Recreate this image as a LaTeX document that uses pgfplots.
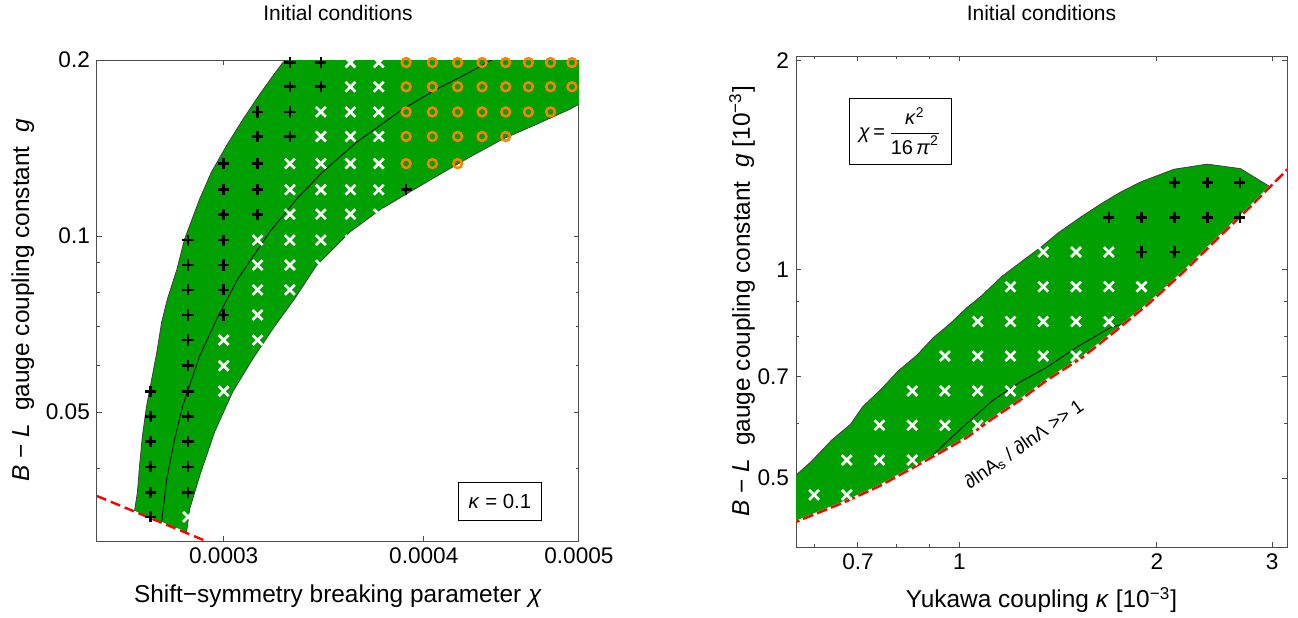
\documentclass[border=0pt]{standalone}
\usepackage{fontspec}
\setmainfont{Liberation Sans}
\usepackage{amsmath}
\usepackage{pgfplots}
\pgfplotsset{compat=1.18}
\definecolor{bandgreen}{RGB}{0,160,0}
\definecolor{morange}{RGB}{255,128,0}
\begin{document}
\begin{tikzpicture}
\path[use as bounding box] (0,0) rectangle (649pt,308.5pt);
% ---------------- left panel ----------------
\begin{axis}[
  name=leftax,
  scale only axis, anchor=south west,
  xmode=log, ymode=log,
  /pgf/number format/assume math mode=true,
  tick align=inside,
  major tick length=2.6pt, minor tick length=1.5pt,
  axis line style={black!70, line width=0.5pt},
  tick style={black!70, line width=0.5pt},
  tick label style={font=\fontsize{11.3}{13}\selectfont, black},
  label style={font=\fontsize{12.2}{14}\selectfont},
  at={(48.5pt,38pt)}, width=241pt, height=240.5pt,
  xmin=0.00025, xmax=0.0005, ymin=0.0301, ymax=0.2,
  xtick={0.0003,0.0004,0.0005}, xticklabels={0.0003,0.0004,0.0005},
  ytick={0.05,0.1,0.2}, yticklabels={0.05,0.1,0.2},
  minor ytick={0.04,0.06,0.07,0.08,0.09},
  xlabel={Shift\textminus symmetry breaking parameter \textit{χ}},
  xlabel style={at={(axis description cs:0.5,-0.114)}, anchor=center},
  ylabel={\textit{B} \textminus\ \textit{L}\ \ gauge coupling constant\ \ \textit{g}},
  ylabel style={at={(axis description cs:-0.154,0.5)}, anchor=center},
]
\addplot[fill=bandgreen, draw=none] coordinates {
(0.0002639,0.0339) (0.0002650,0.0365) (0.0002658,0.04045) (0.0002669,0.0455)
(0.0002685,0.0512) (0.0002705,0.05693) (0.0002725,0.06334) (0.0002744,0.0713)
(0.0002767,0.0781) (0.0002805,0.0878) (0.0002836,0.0988) (0.0002898,0.1157)
(0.0002947,0.1285) (0.0003012,0.1427) (0.0003085,0.1585) (0.0003160,0.1749)
(0.0003220,0.1879) (0.0003267,0.1982) (0.000333,0.205) (0.00034,0.21)
(0.00052,0.21) (0.00052,0.176) (0.0005001,0.1681) (0.0004936,0.1648)
(0.0004708,0.1554) (0.0004482,0.1465) (0.0004275,0.1365) (0.0004076,0.1266)
(0.000392,0.1189) (0.0003755,0.1108) (0.0003596,0.1015) (0.0003428,0.0890)
(0.0003322,0.0781) (0.0003219,0.06934) (0.0003128,0.06163) (0.0003039,0.05412)
(0.0002961,0.04624) (0.0002898,0.03889) (0.0002857,0.03415) (0.0002844,0.0312)
} --cycle;
\addplot[black!75, line width=0.4pt] coordinates {
(0.0002639,0.0339) (0.0002650,0.0365) (0.0002658,0.04045) (0.0002669,0.0455)
(0.0002685,0.0512) (0.0002705,0.05693) (0.0002725,0.06334) (0.0002744,0.0713)
(0.0002767,0.0781) (0.0002805,0.0878) (0.0002836,0.0988) (0.0002898,0.1157)
(0.0002947,0.1285) (0.0003012,0.1427) (0.0003085,0.1585) (0.0003160,0.1749)
(0.0003220,0.1879) (0.0003267,0.1982) (0.000333,0.205) (0.00034,0.21)
};
\addplot[black!75, line width=0.4pt] coordinates {
(0.0002844,0.0312) (0.0002857,0.03415) (0.0002898,0.03889) (0.0002961,0.04624)
(0.0003039,0.05412) (0.0003128,0.06163) (0.0003219,0.06934) (0.0003322,0.0781)
(0.0003428,0.0890) (0.0003596,0.1015) (0.0003755,0.1108) (0.000392,0.1189)
(0.0004076,0.1266) (0.0004275,0.1365) (0.0004482,0.1465) (0.0004708,0.1554)
(0.0004936,0.1648) (0.0005001,0.1681) (0.00052,0.176)
};
\addplot[black, line width=0.4pt] coordinates {
(0.0002744,0.0325) (0.0002764,0.03843) (0.0002796,0.04498) (0.0002828,0.0512)
(0.0002898,0.06235) (0.0002970,0.07211) (0.0003061,0.0844) (0.0003101,0.0889)
(0.0003205,0.1016) (0.0003332,0.1157) (0.0003459,0.1287) (0.0003632,0.1447)
(0.0003881,0.1648) (0.0004076,0.1784) (0.0004275,0.1907) (0.0004419,0.2007)
(0.00046,0.212)
};
\addplot[only marks, mark=+, mark size=2.8pt, mark options={line width=1.35pt}, color=black] coordinates {
(0.00033,0.198)(0.000345,0.198)
(0.00033,0.180)(0.000345,0.180)
(0.000315,0.163)(0.00033,0.163)
(0.000315,0.148)(0.00033,0.148)
(0.0003,0.133)(0.000315,0.133)
(0.0003,0.120)(0.000315,0.120)(0.00039,0.120)
(0.0003,0.109)(0.000315,0.109)
(0.000285,0.0984)(0.0003,0.0984)
(0.000285,0.0892)(0.0003,0.0892)
(0.000285,0.0809)(0.0003,0.0809)
(0.000285,0.0733)(0.0003,0.0733)
(0.000285,0.0664)
(0.000285,0.0600)
(0.00027,0.0543)(0.000285,0.0543)
(0.00027,0.0492)(0.000285,0.0492)
(0.00027,0.0445)(0.000285,0.0445)
(0.00027,0.0403)(0.000285,0.0403)
(0.00027,0.0364)(0.000285,0.0364)
(0.00027,0.0331)
};
\addplot[only marks, mark=x, mark size=3.5pt, mark options={line width=1.35pt}, color=white] coordinates {
(0.00036,0.198)(0.000375,0.198)
(0.00036,0.180)(0.000375,0.180)
(0.000345,0.163)(0.00036,0.163)(0.000375,0.163)
(0.000345,0.148)(0.00036,0.148)(0.000375,0.148)
(0.00033,0.133)(0.000345,0.133)(0.00036,0.133)(0.000375,0.133)
(0.00033,0.120)(0.000345,0.120)(0.00036,0.120)(0.000375,0.120)
(0.00033,0.109)(0.000345,0.109)(0.00036,0.109)(0.000375,0.109)
(0.000315,0.0984)(0.00033,0.0984)(0.000345,0.0984)(0.00036,0.0984)
(0.000315,0.0892)(0.00033,0.0892)(0.000345,0.0892)
(0.000315,0.0809)(0.00033,0.0809)
(0.000315,0.0733)
(0.0003,0.0664)(0.000315,0.0664)
(0.0003,0.0600)
(0.0003,0.0543)
(0.000285,0.0331)
};
\addplot[only marks, mark=o, mark size=2.2pt, mark options={line width=1.25pt}, color=morange] coordinates {
(0.00039,0.198)(0.000405,0.198)(0.00042,0.198)(0.000435,0.198)(0.00045,0.198)(0.000465,0.198)(0.00048,0.198)(0.000495,0.198)
(0.00039,0.180)(0.000405,0.180)(0.00042,0.180)(0.000435,0.180)(0.00045,0.180)(0.000465,0.180)(0.00048,0.180)(0.000495,0.180)
(0.00039,0.163)(0.000405,0.163)(0.00042,0.163)(0.000435,0.163)(0.00045,0.163)(0.000465,0.163)(0.00048,0.163)
(0.00039,0.148)(0.000405,0.148)(0.00042,0.148)(0.000435,0.148)(0.00045,0.148)
(0.00039,0.133)(0.000405,0.133)(0.00042,0.133)
};
\addplot[red, line width=1.2pt, dash pattern=on 5pt off 2.5pt] coordinates {
(0.00025,0.03594) (0.000295,0.0298)
};
\node[draw=black, fill=white, line width=0.5pt, minimum width=41.5pt, minimum height=19pt, inner sep=0pt, font=\fontsize{10.2}{12}\selectfont] at (axis description cs:0.836,0.083) {\textit{κ} = 0.1};
\end{axis}
\node[anchor=center, font=\fontsize{10.5}{12}\selectfont] at ([yshift=23.3pt]leftax.north) {Initial conditions};
% ---------------- right panel ----------------
\begin{axis}[
  name=rightax,
  scale only axis, anchor=south west,
  xmode=log, ymode=log,
  /pgf/number format/assume math mode=true,
  tick align=inside,
  major tick length=2.6pt, minor tick length=1.5pt,
  axis line style={black!70, line width=0.5pt},
  tick style={black!70, line width=0.5pt},
  tick label style={font=\fontsize{11.3}{13}\selectfont, black},
  label style={font=\fontsize{12.2}{14}\selectfont},
  at={(398pt,35pt)}, width=245.5pt, height=245.5pt,
  xmin=0.563, xmax=3.16, ymin=0.398, ymax=2.03,
  xtick={0.7,1,2,3}, xticklabels={0.7,1,2,3},
  minor xtick={0.6,0.8,0.9},
  ytick={0.5,0.7,1,2}, yticklabels={0.5,0.7,1,2},
  minor ytick={0.6,0.8,0.9},
  xlabel={Yukawa coupling \textit{κ} [10\textsuperscript{\textminus 3}]},
  xlabel style={at={(axis description cs:0.5,-0.108)}, anchor=center},
  ylabel={\textit{B} \textminus\ \textit{L}\ \ gauge coupling constant\ \ \textit{g} [10\textsuperscript{\textminus 3}]},
  ylabel style={at={(axis description cs:-0.110,0.5)}, anchor=center},
]
\addplot[fill=bandgreen, draw=none] coordinates {
(0.55,0.495) (0.5623,0.5045) (0.5934,0.528) (0.6383,0.5675) (0.6817,0.5979)
(0.7121,0.6343) (0.7603,0.6727) (0.8058,0.7137) (0.8606,0.7519) (0.9124,0.7976)
(0.9670,0.8349) (1.025,0.8798) (1.079,0.9149) (1.160,0.9767) (1.248,1.029)
(1.332,1.077) (1.413,1.128) (1.530,1.189) (1.646,1.244) (1.758,1.291)
(1.891,1.337) (2.124,1.394) (2.387,1.418) (2.683,1.397) (2.979,1.315)
(2.776,1.230) (2.472,1.106) (2.193,0.990) (1.952,0.8953) (1.739,0.8181)
(1.542,0.7473) (1.359,0.692) (1.235,0.6471) (1.123,0.6093) (1.025,0.5720)
(0.9320,0.5436) (0.8475,0.5171) (0.7544,0.4869) (0.6719,0.4630) (0.5614,0.432)
(0.55,0.428)
} --cycle;
\addplot[black!75, line width=0.4pt] coordinates {
(0.55,0.495) (0.5623,0.5045) (0.5934,0.528) (0.6383,0.5675) (0.6817,0.5979)
(0.7121,0.6343) (0.7603,0.6727) (0.8058,0.7137) (0.8606,0.7519) (0.9124,0.7976)
(0.9670,0.8349) (1.025,0.8798) (1.079,0.9149) (1.160,0.9767) (1.248,1.029)
(1.332,1.077) (1.413,1.128) (1.530,1.189) (1.646,1.244) (1.758,1.291)
(1.891,1.337) (2.124,1.394) (2.387,1.418) (2.683,1.397) (2.979,1.315)
};
\addplot[black, line width=0.4pt] coordinates {
(0.90,0.534) (0.96,0.566) (1.025,0.5992) (1.123,0.6471) (1.235,0.6874)
(1.359,0.7227) (1.510,0.7726) (1.696,0.8235) (1.78,0.835)
};
\addplot[only marks, mark=x, mark size=3.5pt, mark options={line width=1.35pt}, color=white] coordinates {
(0.6,0.473)(0.673,0.473)
(0.673,0.531)(0.755,0.531)(0.847,0.531)
(0.755,0.596)(0.847,0.596)(0.950,0.596)(1.066,0.596)
(0.847,0.668)(0.950,0.668)(1.066,0.668)(1.196,0.668)
(0.950,0.750)(1.066,0.750)(1.196,0.750)(1.342,0.750)(1.506,0.750)
(1.066,0.841)(1.196,0.841)(1.342,0.841)(1.506,0.841)(1.690,0.841)
(1.196,0.944)(1.342,0.944)(1.506,0.944)(1.690,0.944)(1.896,0.944)
(1.342,1.059)(1.506,1.059)(1.690,1.059)
};
\addplot[only marks, mark=+, mark size=2.8pt, mark options={line width=1.35pt}, color=black] coordinates {
(1.896,1.059)(2.127,1.059)
(1.690,1.188)(1.896,1.188)(2.127,1.188)(2.387,1.188)(2.678,1.188)
(2.127,1.333)(2.387,1.333)(2.678,1.333)
};
\addplot[white, line width=1.2pt] coordinates {
(0.55,0.428) (0.5614,0.432) (0.6719,0.4630) (0.7544,0.4869) (0.8475,0.5171)
(0.9320,0.5436) (1.025,0.5720) (1.123,0.6093) (1.235,0.6471) (1.359,0.692)
(1.542,0.7473) (1.739,0.8181) (1.952,0.8953) (2.193,0.990) (2.472,1.106)
(2.776,1.230) (3.118,1.374) (3.3,1.45)
};
\addplot[red, line width=1.2pt, dash pattern=on 5.5pt off 2pt] coordinates {
(0.55,0.428) (0.5614,0.432) (0.6719,0.4630) (0.7544,0.4869) (0.8475,0.5171)
(0.9320,0.5436) (1.025,0.5720) (1.123,0.6093) (1.235,0.6471) (1.359,0.692)
(1.542,0.7473) (1.739,0.8181) (1.952,0.8953) (2.193,0.990) (2.472,1.106)
(2.776,1.230) (3.118,1.374) (3.3,1.45)
};
\node[rotate=35, font=\fontsize{9.5}{11}\selectfont] at (axis cs:1.255,0.559) {∂lnA\textsubscript{s} / ∂lnΛ >{}> 1};
\node[draw=black, fill=white, line width=0.5pt, minimum width=51pt, minimum height=33pt, inner sep=0pt, font=\fontsize{10}{12}\selectfont] at (axis description cs:0.212,0.847) {\textit{χ}\,=\,$\dfrac{\text{\textit{κ}}^{\text{2}}}{\text{16\,\textit{π}}^{\text{2}}}$};
\end{axis}
\node[anchor=center, font=\fontsize{10.5}{12}\selectfont] at ([yshift=21.5pt]rightax.north) {Initial conditions};
\end{tikzpicture}
\end{document}
